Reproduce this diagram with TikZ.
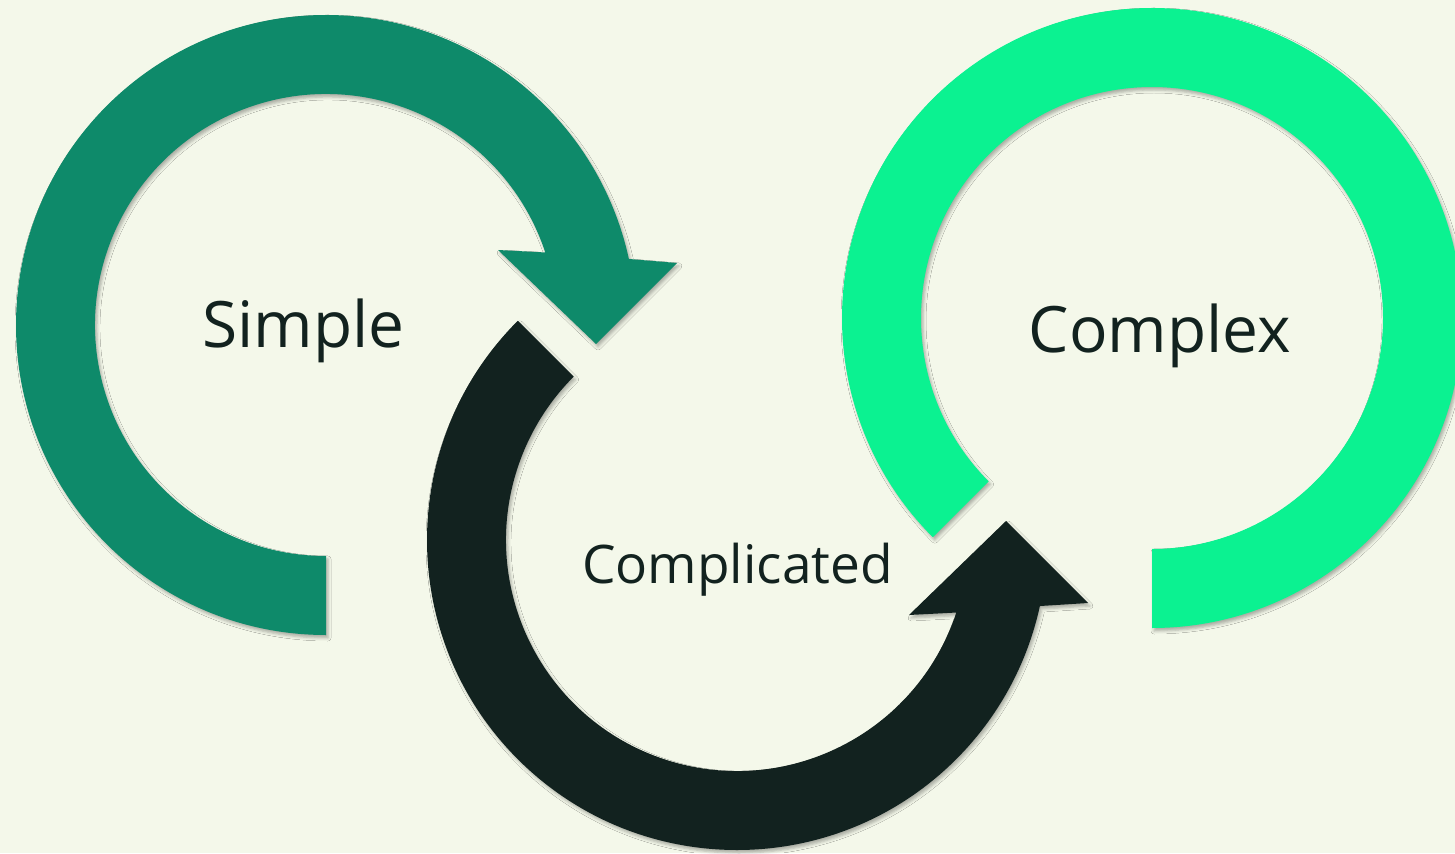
\documentclass[tikz,border=0pt]{standalone}
\usepackage{fontspec}
\setmainfont{Open Sans}
\usetikzlibrary{shadows.blur}

\begin{document}
\begin{tikzpicture}[x=0.5pt,y=0.5pt]

% ------------------------------------------------ cycle colors
\definecolor{cy_bg}{RGB}{244,248,234}    %#F4F8EA
\definecolor{cy_teal}{RGB}{14,138,106}   %#0E8A6A
\definecolor{cy_dark}{RGB}{18,34,31}     %#12221F
\definecolor{cy_green}{RGB}{11,242,145}  %#0BF291

\tikzset{ring/.style={blur shadow={shadow xshift=1pt,shadow yshift=-1.5pt,shadow blur radius=1.5pt,shadow opacity=30}},
         label/.style={anchor=base,text=cy_dark}}

\fill[cy_bg] (0,0) rectangle (1455,853);
\useasboundingbox (0,0) rectangle (1455,853);

% simple: clockwise from the bottom, head pointing down
\begin{scope}[shift={(326,528)}]
\fill[cy_teal,ring] (270:310) arc[start angle=270,end angle=12.3,radius=310]
    -- (351,62) -- (270,-19) -- (172,75)
    -- (18.3:231) arc[start angle=18.3,end angle=270,radius=231] -- cycle;
\end{scope}

% complicated: counter clockwise, head pointing up
\begin{scope}[shift={(737,313)}]
\fill[cy_dark,ring] (135:310) arc[start angle=135,end angle=347.7,radius=310]
    -- (351,-63) -- (269,19) -- (172,-75)
    -- (341.7:231) arc[start angle=341.7,end angle=135,radius=231] -- cycle;
\end{scope}

% complex: open ring, no head
\begin{scope}[shift={(1152,535)}]
\fill[cy_green,ring] (270:310) arc[start angle=270,end angle=585,radius=310]
    -- (225:231) arc[start angle=585,end angle=270,radius=231] -- cycle;
\end{scope}

\node[label,font=\fontsize{32}{38}\selectfont] (simple) at (303.5,506) {Simple};
\node[label,font=\fontsize{26.6}{32}\selectfont] (complicated) at (737.5,270) {Complicated};
\node[label,font=\fontsize{32}{38}\selectfont] (complex) at (1160,501) {Complex};

\end{tikzpicture}
\end{document}
